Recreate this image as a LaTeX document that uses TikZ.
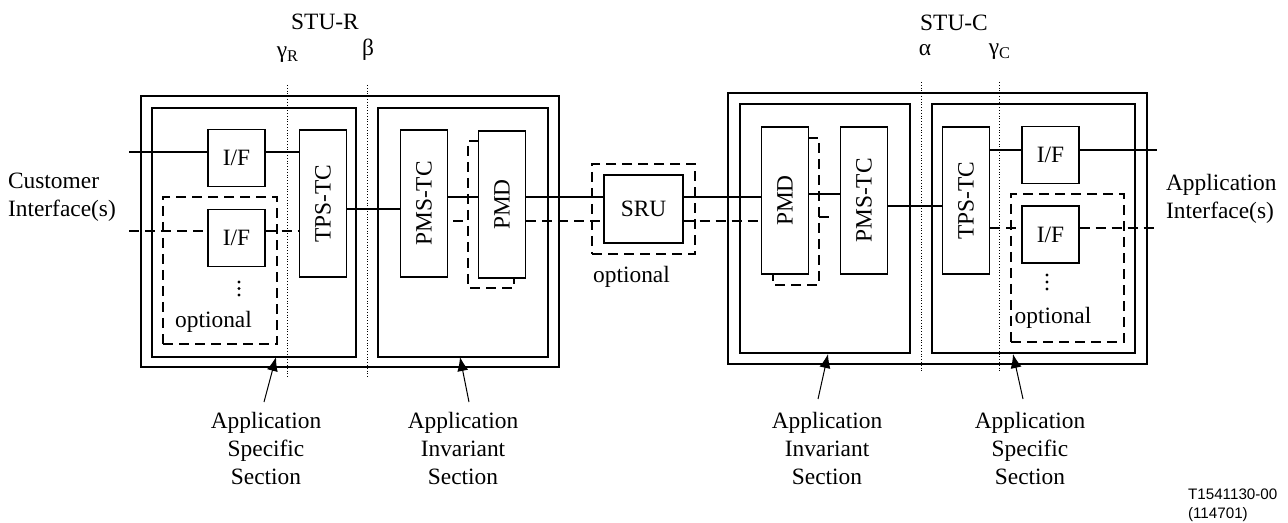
\documentclass[tikz,border=0pt]{standalone}
\usepackage{fontspec}
\setmainfont{Liberation Serif}
\newfontfamily\idfont{Liberation Sans}
\usetikzlibrary{arrows.meta,fit}

\tikzset{
  blk/.style={draw, line width=0.6pt, inner sep=0pt, minimum width=23.5pt, minimum height=73.5pt},
  ifbox/.style={draw, line width=0.6pt, inner sep=0pt, minimum width=28.5pt, minimum height=28.5pt},
  sect/.style={draw, line width=0.6pt, inner sep=0pt, fit={#1}},
  unit/.style={draw, line width=0.9pt, inner sep=0pt, fit={#1}},
  opt/.style={line width=0.6pt, dash pattern=on 5pt off 3pt},
  optbox/.style={draw, opt, inner sep=0pt, fit={#1}},
  refline/.style={line width=0.4pt, densely dotted},
  link/.style={line width=0.6pt},
  dlink/.style={line width=0.6pt, dash pattern=on 5pt off 3pt},
  pointer/.style={-{Latex[length=7pt,width=5.5pt]}, line width=0.5pt},
}

\begin{document}
\begin{tikzpicture}[x=0.5pt,y=-0.5pt,font=\fontsize{11.7}{14}\selectfont]
\useasboundingbox (0,0) rectangle (1288,523);

% STU-R side
\node[unit={(141,96) (559,367)}] (stuR) {};
\node[sect={(152,108) (356,357)}] (specR) {};
\node[sect={(378,108) (548,357)}] (invR) {};
\node[optbox={(163,197) (277,344)}] (optR) {};
\node[ifbox] (ifRa) at (236.5,158) {I/F};
\node[ifbox] (ifRb) at (236.5,238) {I/F};
\node[blk] (tpsR) at (323,203.5) {\rotatebox{90}{TPS-TC}};
\node[blk] (pmsR) at (424,203.5) {\rotatebox{90}{PMS-TC}};
\node[blk] (pmdR) at (502,204.5) {\rotatebox{90}{PMD}};
\draw[opt] (479,141) -- (468,141) -- (468,288) -- (514,288) -- (514,278);
\foreach \y in {282,288.5,295} \fill (239,\y) circle[radius=1.6];
\node (optlabR) at (213.5,322) {optional};

% SRU
\node[draw, link, inner sep=0pt, minimum width=39.5pt, minimum height=34pt] (sru) at (643.5,209) {SRU};
\node[optbox={(592,164) (695,254)}] (optS) {};
\node (optlabS) at (631.5,277) {optional};

% STU-C side
\node[unit={(728,93) (1147,364)}] (stuC) {};
\node[sect={(740,104) (910,353)}] (invC) {};
\node[sect={(932,104) (1135,353)}] (specC) {};
\node[optbox={(1011,194) (1124,342)}] (optC) {};
\node[blk] (pmdC) at (785,200.5) {\rotatebox{90}{PMD}};
\node[blk] (pmsC) at (864,200.5) {\rotatebox{90}{PMS-TC}};
\node[blk] (tpsC) at (966,200.5) {\rotatebox{90}{TPS-TC}};
\node[ifbox] (ifCa) at (1050.5,155) {I/F};
\node[ifbox] (ifCb) at (1050.5,234.5) {I/F};
\draw[opt] (808,138) -- (819,138) -- (819,285) -- (773,285) -- (773,274);
\foreach \y in {275,282,289} \fill (1047,\y) circle[radius=1.6];
\node (optlabC) at (1053,318) {optional};

% levels of the lines
\coordinate (inRa) at (129,152);
\coordinate (inRb) at (129,231);
\coordinate (lvTR) at (0,209);
\coordinate (lvLine) at (0,197);
\coordinate (lvDash) at (0,221);
\coordinate (stubR) at (453,221);
\coordinate (stubC) at (819,217);
\coordinate (lvPC) at (0,194);
\coordinate (lvTC) at (0,206);
\coordinate (outCa) at (1157,150);
\coordinate (outCb) at (1157,228);

\draw[link] (inRa) -- (inRa -| ifRa.west);
\draw[link] (ifRa.east |- inRa) -- (tpsR.west |- inRa);
\draw[dlink] (inRb) -- (inRb -| ifRb.west);
\draw[dlink] (ifRb.east |- inRb) -- (tpsR.west |- inRb);
\draw[link] (tpsR.east |- lvTR) -- (pmsR.west |- lvTR);
\draw[link] (pmsR.east |- lvLine) -- (pmdR.west |- lvLine);
\draw[dlink] (stubR) -- ++(15,0);
\draw[link] (pmdR.east |- lvLine) -- (sru.west |- lvLine);
\draw[link] (sru.east |- lvLine) -- (pmdC.west |- lvLine);
\draw[dlink] (pmdR.east |- lvDash) -- (sru.west |- lvDash);
\draw[dlink] (sru.east |- lvDash) -- (pmdC.west |- lvDash);
\draw[link] (pmdC.east |- lvPC) -- (pmsC.west |- lvPC);
\draw[dlink] (stubC) -- ++(15,0);
\draw[link] (pmsC.east |- lvTC) -- (tpsC.west |- lvTC);
\draw[link] (tpsC.east |- outCa) -- (ifCa.west |- outCa);
\draw[link] (ifCa.east |- outCa) -- (outCa);
\draw[dlink] (tpsC.east |- outCb) -- (ifCb.west |- outCb);
\draw[dlink] (ifCb.east |- outCb) -- (outCb);

% reference points
\draw[refline] (287,85) -- (287,377);
\draw[refline] (367,85) -- (367,377);
\draw[refline] (921,82) -- (921,373);
\draw[refline] (999,82) -- (999,373);
\node (stuRlab) at (325,22) {STU-R};
\node (gamR) at (288,55) {γ\textsubscript{R}};
\node (betR) at (368,50) {β};
\node (stuClab) at (954,23) {STU-C};
\node (alpC) at (925,50) {α};
\node (gamC) at (1000,52) {γ\textsubscript{C}};

\node[align=left, anchor=west] (custIf) at (1,197.5) {Customer\\Interface(s)};
\node[align=left, anchor=west] (applIf) at (1159,198.5) {Application\\Interface(s)};

% section labels
\node[align=center] (lblSpecR) at (266,448) {Application\\Specific\\Section};
\node[align=center] (lblInvR) at (463,448) {Application\\Invariant\\Section};
\node[align=center] (lblInvC) at (827,448) {Application\\Invariant\\Section};
\node[align=center] (lblSpecC) at (1030,448) {Application\\Specific\\Section};
\coordinate (tailSpecR) at (264,402);
\coordinate (tipSpecR) at (276,357);
\coordinate (tailInvR) at (469,402);
\coordinate (tipInvR) at (460,357);
\coordinate (tailInvC) at (818,399);
\coordinate (tipInvC) at (828,354);
\coordinate (tailSpecC) at (1023,399);
\coordinate (tipSpecC) at (1013,354);
\draw[pointer] (tailSpecR) -- (tipSpecR);
\draw[pointer] (tailInvR) -- (tipInvR);
\draw[pointer] (tailInvC) -- (tipInvC);
\draw[pointer] (tailSpecC) -- (tipSpecC);

\node[font=\idfont\fontsize{7.6}{9.5}\selectfont, align=left, anchor=west] (figId) at (1181,505.5) {T1541130-00\\(114701)};
\end{tikzpicture}
\end{document}
